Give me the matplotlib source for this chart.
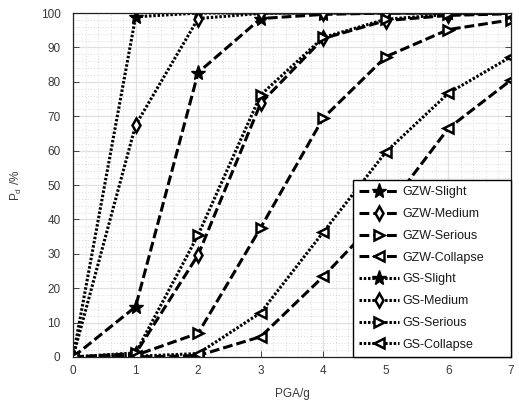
import matplotlib
matplotlib.use("Agg")
import matplotlib.pyplot as plt
from matplotlib.ticker import MultipleLocator

plt.rcParams["font.family"] = ["Liberation Sans", "DejaVu Sans"]
plt.rcParams["mathtext.default"] = "regular"

# PGA levels and exceedance probabilities (%)
pga = [0, 1, 2, 3, 4, 5, 6, 7]

gzw_slight = [0, 14.6, 82.7, 98.4, 99.6, 100, 100, 100]
gzw_medium = [0, 1.0, 29.7, 73.8, 92.6, 97.8, 99.3, 99.8]
gzw_serious = [0, 0.5, 6.9, 37.6, 69.5, 87.3, 95.2, 98.0]
gzw_collapse = [0, 0, 0.4, 5.9, 23.4, 42.5, 66.5, 80.5]

gs_slight = [0, 98.9, 100, 100, 100, 100, 100, 100]
gs_medium = [0, 67.4, 98.4, 99.9, 100, 100, 100, 100]
gs_serious = [0, 1.2, 35.5, 76.2, 92.9, 98.2, 99.6, 100]
gs_collapse = [0, 0.2, 1.0, 12.9, 36.3, 59.6, 76.7, 87.3]

series = [
    ("GZW-Slight", gzw_slight, "dash", "*"),
    ("GZW-Medium", gzw_medium, "dash", "d"),
    ("GZW-Serious", gzw_serious, "dash", ">"),
    ("GZW-Collapse", gzw_collapse, "dash", "<"),
    ("GS-Slight", gs_slight, "dot", "*"),
    ("GS-Medium", gs_medium, "dot", "d"),
    ("GS-Serious", gs_serious, "dot", ">"),
    ("GS-Collapse", gs_collapse, "dot", "<"),
]

fig = plt.figure(figsize=(5.19, 4.07), dpi=100)
ax = fig.add_axes([0.1407, 0.1229, 0.8439, 0.8451])

for label, vals, style, marker in series:
    ls = (0, (3.2, 1.3)) if style == "dash" else (0, (0.8, 0.6))
    star = marker == "*"
    ax.plot(pga, vals, linestyle=ls, color="black", linewidth=2.2,
            marker=marker, markersize=11 if star else 7.5,
            markerfacecolor="black" if star else "white",
            markeredgecolor="black", markeredgewidth=1.0 if star else 1.8,
            label=label)

ax.set_xlim(0, 7)
ax.set_ylim(0, 100)
ax.xaxis.set_major_locator(MultipleLocator(1))
ax.yaxis.set_major_locator(MultipleLocator(10))
ax.xaxis.set_minor_locator(MultipleLocator(0.2))
ax.yaxis.set_minor_locator(MultipleLocator(2))

ax.grid(True, which="major", color="#e0e0e0", linewidth=0.9, linestyle="-")
ax.grid(True, which="minor", color="#cccccc", linewidth=0.6, linestyle=(0, (1, 2.5)))
ax.set_axisbelow(True)

ax.tick_params(which="both", direction="in", top=True, right=True,
               labelsize=8.5, labelcolor="#3a3a3a", color="#444444")
ax.tick_params(which="major", length=4, width=0.7)
ax.tick_params(axis="y", which="major", pad=9)
ax.tick_params(axis="x", which="major", pad=6)
ax.tick_params(which="minor", length=0)
for sp in ax.spines.values():
    sp.set_color("#222222")
    sp.set_linewidth(0.9)

ax.set_xlabel("PGA/g", fontsize=8.5, color="#3a3a3a", labelpad=8)
ax.set_ylabel("P$_d$ /%", fontsize=8.5, color="#3a3a3a", labelpad=12)

# legend fills the lower-right corner, text left-aligned with room on the right
leg = ax.legend(loc="lower left", bbox_to_anchor=(0.639, 0.0, 0.361, 0.52),
                mode="expand", fontsize=9, handlelength=3.2,
                labelspacing=0.78, borderaxespad=0.0, borderpad=0.5,
                handletextpad=0.25, fancybox=False, framealpha=1)
leg.get_frame().set_edgecolor("black")
leg.get_frame().set_linewidth(1.0)
for t in leg.get_texts():
    t.set_color("#1a1a1a")

fig.savefig("out.png", dpi=100)
